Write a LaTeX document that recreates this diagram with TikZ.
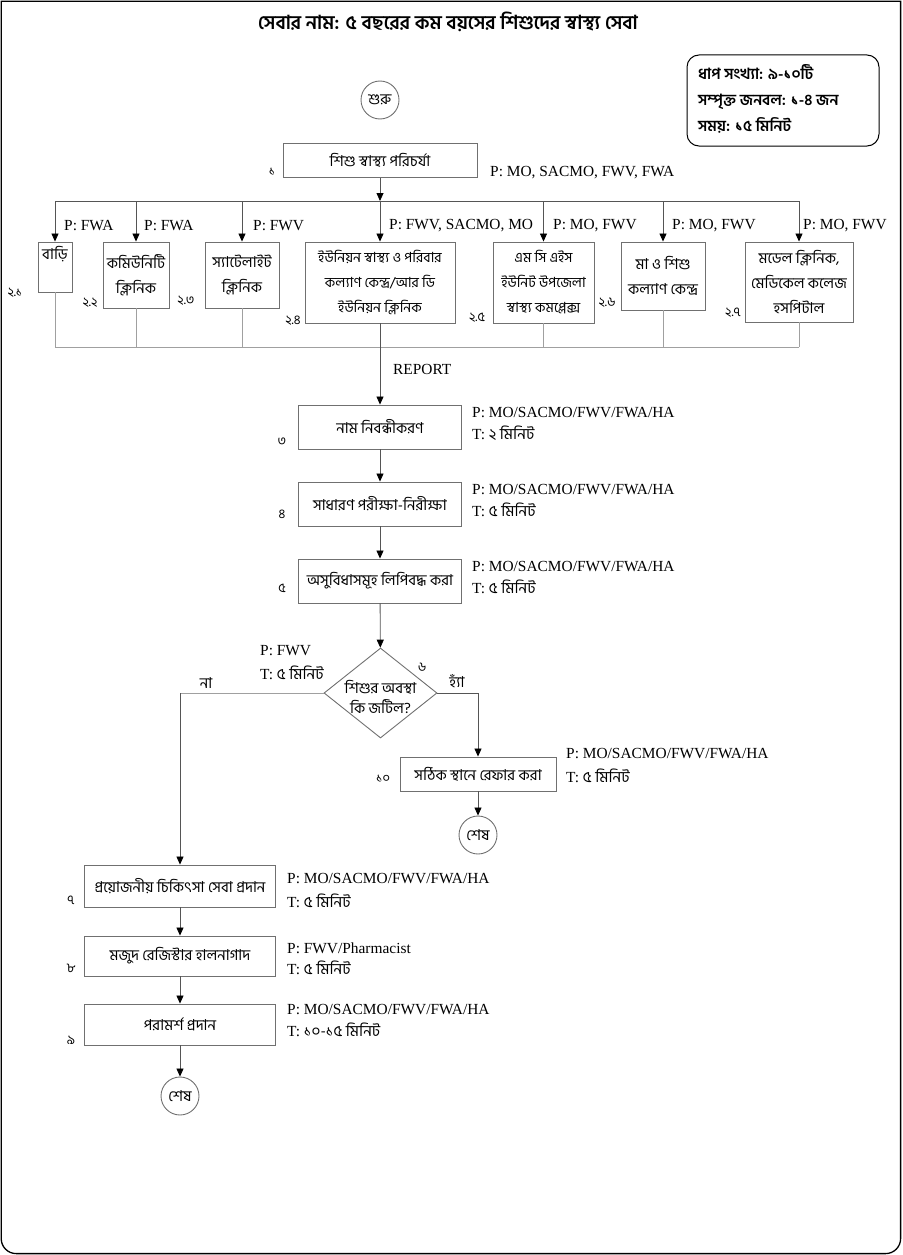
\documentclass[tikz,border=0pt]{standalone}
\usepackage{fontspec}
\setmainfont{Liberation Serif}
\newfontfamily\bn[Script=Bengali]{Hind Siliguri}
\usetikzlibrary{arrows.meta,shapes.geometric}
\definecolor{boxgray}{HTML}{707070}
\definecolor{linegray}{HTML}{555555}
\definecolor{lightln}{HTML}{A0A0A0}
\newcommand\latfont{\fontsize{15.4}{20}\selectfont}
\newcommand\bnboxfont{\bn\fontsize{15}{25}\selectfont}
\newcommand\bnsmallfont{\bn\fontsize{14}{25}\selectfont}
\newcommand\bnnumfont{\bn\fontsize{13}{16}\selectfont}
\begin{document}
\begin{tikzpicture}[x=1pt,y=-1pt,
  box/.style={draw=boxgray, line width=0.9pt, inner sep=0pt, align=center, font=\bnboxfont},
  conn/.style={draw=linegray, line width=0.8pt},
  lconn/.style={draw=lightln, line width=0.9pt},
  arr/.style={conn, -{Triangle[length=8pt,width=7pt,black]}},
  lat/.style={font=\latfont, inner sep=0pt, anchor=west},
  num/.style={font=\bnnumfont, inner sep=0pt},
  term/.style={circle, draw=boxgray, line width=0.9pt, inner sep=0pt, minimum size=38pt, font=\bnboxfont}]
\useasboundingbox (0,0) rectangle (902,1255);
% frame
\draw[line width=1.3pt] (1.2,620) -- (1.2,1.2) -- (900.6,1.2) -- (900.6,620) [rounded corners=15pt] -- (900.6,1253.6) -- (1.2,1253.6) -- cycle;
% title
\node[font=\bn\bfseries\fontsize{19.3}{24}\selectfont, inner sep=0pt] (title) at (448,22) {সেবার নাম: ৫ বছরের কম বয়সের শিশুদের স্বাস্থ্য সেবা};
% info box
\node[draw=black, line width=1pt, rounded corners=12pt, minimum width=192pt, minimum height=91pt, inner sep=0pt] (info) at (783,100.5) {};
\node[font=\bn\bfseries\fontsize{15.4}{26}\selectfont, align=left, anchor=west, inner sep=0pt] (infotxt) at (698,99) {ধাপ সংখ্যা: ৯-১০টি\\সম্পৃক্ত জনবল: ১-৪ জন\\সময়: ১৫ মিনিট};
% start
\node[term] (start) at (380,100) {শুরু};
% box 1
\node[box, minimum width=194pt, minimum height=34pt] (b1) at (380,160.5) {শিশু স্বাস্থ্য পরিচর্যা};
\node[num] (n1) at (272,172) {১};
\node[lat] (p1) at (490,173) {P: MO, SACMO, FWV, FWA};
% level 2 boxes
\node[box, minimum width=34pt, minimum height=50pt] (b21) at (55,267) {};
\node[font=\bnboxfont, inner sep=0pt] (b21t) at (55,254) {বাড়ি};
\node[box, minimum width=66pt, minimum height=66pt] (b22) at (136,275) {কমিউনিটি\\ক্লিনিক};
\node[box, minimum width=74pt, minimum height=66pt] (b23) at (242,275) {স্যাটেলাইট\\ক্লিনিক};
\node[box, minimum width=150pt, minimum height=81pt, font=\bnsmallfont] (b24) at (380,282.5) {ইউনিয়ন স্বাস্থ্য ও পরিবার\\কল্যাণ কেন্দ্র/আর ডি\\ইউনিয়ন ক্লিনিক};
\node[box, minimum width=101pt, minimum height=81pt, font=\bnsmallfont] (b25) at (543.5,282.5) {এম সি এইস\\ইউনিট উপজেলা\\স্বাস্থ্য কমপ্লেক্স};
\node[box, minimum width=84pt, minimum height=68pt] (b26) at (663,276) {মা ও শিশু\\কল্যাণ কেন্দ্র};
\node[box, minimum width=108pt, minimum height=80pt] (b27) at (799,282) {মডেল ক্লিনিক,\\মেডিকেল কলেজ\\হসপিটাল};
% numbers level 2
\node[num] (n21) at (15,293) {২.১};
\node[num] (n22) at (90,303) {২.২};
\node[num] (n23) at (186,301) {২.৩};
\node[num] (n24) at (293,321) {২.৪};
\node[num] (n25) at (477,318) {২.৫};
\node[num] (n26) at (607,303) {২.৬};
\node[num] (n27) at (733,313) {২.৭};
% branch labels
\node[lat] (l21) at (64,226) {P: FWA};
\node[lat] (l22) at (144,226) {P: FWA};
\node[lat] (l23) at (253,226) {P: FWV};
\node[lat] (l24) at (389,226) {P: FWV, SACMO, MO};
\node[lat] (l25) at (553,226) {P: MO, FWV};
\node[lat] (l26) at (672,226) {P: MO, FWV};
\node[lat] (l27) at (803,226) {P: MO, FWV};
% bars
\coordinate (tl) at (55,201);
\coordinate (tr) at (799,201);
\coordinate (bl) at (55,347);
\coordinate (br) at (799,347);
\draw[arr] (b1.south) -- (b1.south |- tl);
\draw[conn] (tl) -- (tr);
\foreach \b in {b21,b22,b23,b24,b25,b26,b27} {\draw[arr] (\b.north |- tl) -- (\b.north);}
\draw[lconn] (bl) -- (br);
\foreach \b in {b21,b22,b23,b25,b26,b27} {\draw[lconn] (\b.south) -- (\b.south |- bl);}
% steps 3-5
\node[box, minimum width=163pt, minimum height=44pt] (b3) at (380,427) {নাম নিবন্ধীকরণ};
\node[box, minimum width=163pt, minimum height=44pt] (b4) at (380,504) {সাধারণ পরীক্ষা-নিরীক্ষা};
\node[box, minimum width=163pt, minimum height=44pt] (b5) at (380,581) {অসুবিধাসমূহ লিপিবদ্ধ করা};
\node[num] (n3) at (282,442) {৩};
\node[num] (n4) at (282,514) {৪};
\node[num] (n5) at (282,588) {৫};
\node[lat] (p3) at (472,413) {P: MO/SACMO/FWV/FWA/HA};
\node[lat] (t3) at (472,433) {T: {\bn ২ মিনিট}};
\node[lat] (p4) at (472,490) {P: MO/SACMO/FWV/FWA/HA};
\node[lat] (t4) at (472,510) {T: {\bn ৫ মিনিট}};
\node[lat] (p5) at (472,567) {P: MO/SACMO/FWV/FWA/HA};
\node[lat] (t5) at (472,587) {T: {\bn ৫ মিনিট}};
\node[lat] (rep) at (393,369) {REPORT};
\draw[arr] (b24.south) -- (b3.north);
\draw[arr] (b3) -- (b4);
\draw[arr] (b4) -- (b5);
% decision
\node[diamond, draw=boxgray, line width=0.9pt, inner sep=0pt, minimum width=113pt, minimum height=90pt] (dia) at (380.5,693) {};
\node[font=\bnboxfont, align=center, inner sep=0pt] (diat) at (380.5,697) {শিশুর অবস্থা\\[-5pt]কি জটিল?};
\draw[arr] (b5) -- (dia);
\node[num] (n6) at (422,667) {৬};
\node[lat] (p6) at (260,651) {P: FWV};
\node[lat] (t6) at (260,673) {T: {\bn ৫ মিনিট}};
\node[font=\bnboxfont, inner sep=0pt] (no) at (206,683) {না};
\node[font=\bnboxfont, inner sep=0pt] (yes) at (457,681) {হ্যাঁ};
% yes branch
\node[box, minimum width=156pt, minimum height=34pt] (b10) at (478,774) {সঠিক স্থানে রেফার করা};
\node[num] (n10) at (383,779) {১০};
\node[lat] (p10) at (566,754) {P: MO/SACMO/FWV/FWA/HA};
\node[lat] (t10) at (566,776) {T: {\bn ৫ মিনিট}};
\node[term] (end1) at (478,835) {শেষ};
\draw[arr] (dia.east) -- (b10.north |- dia.east) -- (b10.north);
\draw[arr] (b10) -- (end1);
% no branch
\node[box, minimum width=191pt, minimum height=42pt] (b7) at (180,886) {প্রয়োজনীয় চিকিৎসা সেবা প্রদান};
\node[box, minimum width=191pt, minimum height=40pt] (b8) at (180,956) {মজুদ রেজিস্টার হালনাগাদ};
\node[box, minimum width=191pt, minimum height=41pt] (b9) at (180,1024.5) {পরামর্শ প্রদান};
\node[num] (n7) at (71,900) {৭};
\node[num] (n8) at (71,968) {৮};
\node[num] (n9) at (71,1040) {৯};
\node[lat] (p7) at (287,879) {P: MO/SACMO/FWV/FWA/HA};
\node[lat] (t7) at (287,901) {T: {\bn ৫ মিনিট}};
\node[lat] (p8) at (287,948) {P: FWV/Pharmacist};
\node[lat] (t8) at (287,968) {T: {\bn ৫ মিনিট}};
\node[lat] (p9) at (287,1010) {P: MO/SACMO/FWV/FWA/HA};
\node[lat] (t9) at (287,1030) {T: {\bn ১০-১৫ মিনিট}};
\node[term] (end2) at (180,1096) {শেষ};
\draw[lconn] (dia.west) -- (b7.north |- dia.west);
\draw[arr] (b7.north |- dia.west) -- (b7.north);
\draw[arr] (b7) -- (b8);
\draw[arr] (b8) -- (b9);
\draw[arr] (b9) -- (end2);
\end{tikzpicture}
\end{document}
